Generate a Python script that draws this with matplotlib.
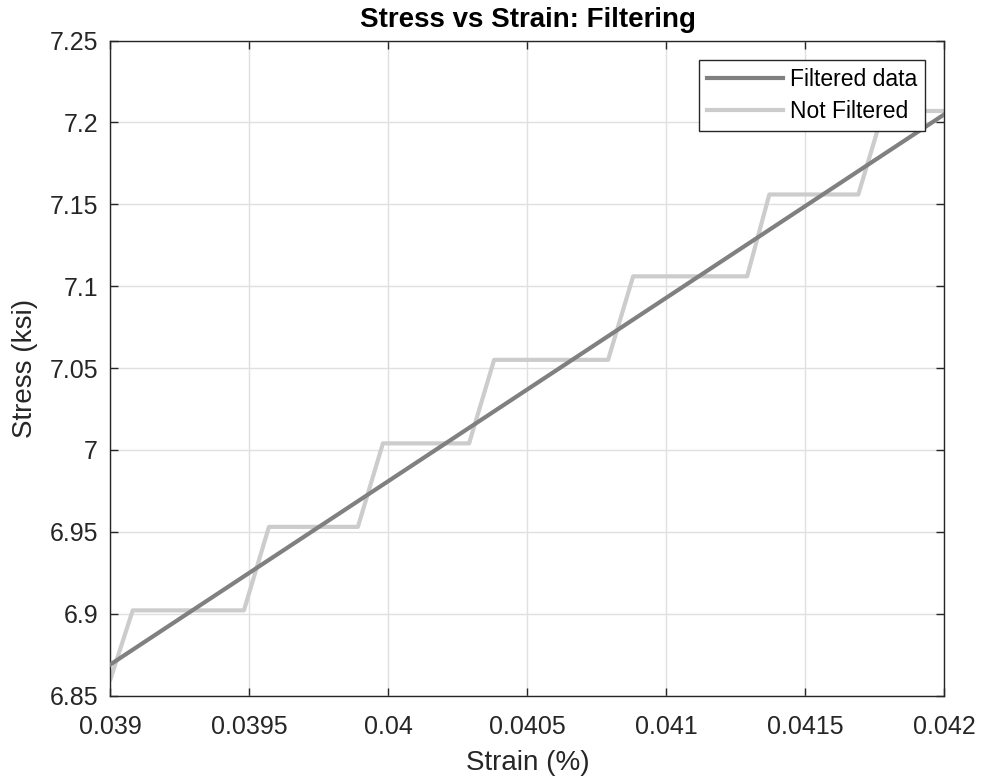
import matplotlib.pyplot as plt

plt.rcParams['font.family'] = ['Liberation Sans', 'DejaVu Sans']

# filtered (linear fit) endpoints
filt_strain = [0.0390, 0.0420]
filt_stress = [6.869, 7.205]

# raw stepped signal
raw_strain = [0.03900, 0.03908, 0.03948, 0.03957, 0.03989, 0.03998, 0.04029,
              0.04038, 0.04079, 0.04088, 0.04129, 0.04137, 0.04169, 0.04178, 0.04200]
raw_stress = [6.860, 6.902, 6.902, 6.953, 6.953, 7.004, 7.004,
              7.055, 7.055, 7.106, 7.106, 7.156, 7.156, 7.207, 7.207]

xticks = [0.039, 0.0395, 0.04, 0.0405, 0.041, 0.0415, 0.042]
xtick_labels = ['0.039', '0.0395', '0.04', '0.0405', '0.041', '0.0415', '0.042']
yticks = [6.85, 6.9, 6.95, 7.0, 7.05, 7.1, 7.15, 7.2, 7.25]
ytick_labels = ['6.85', '6.9', '6.95', '7', '7.05', '7.1', '7.15', '7.2', '7.25']

fig = plt.figure(figsize=(9.82, 7.8), dpi=100)
ax = fig.add_axes([0.1125, 0.1083, 0.8493, 0.8397])

ax.plot(filt_strain, filt_stress, color='#808080', lw=3.0, label='Filtered data', zorder=3)
ax.plot(raw_strain, raw_stress, color='#cccccc', lw=3.0, label='Not Filtered', zorder=2)

ax.set_xlim(0.039, 0.042)
ax.set_ylim(6.85, 7.25)
ax.set_xticks(xticks)
ax.set_xticklabels(xtick_labels)
ax.set_yticks(yticks)
ax.set_yticklabels(ytick_labels)
ax.tick_params(direction='in', top=True, right=True, labelsize=18, colors='#262626',
               length=6, width=1)
ax.tick_params(axis='x', pad=14)
ax.tick_params(axis='y', pad=9)
ax.grid(True, color='#e0e0e0', lw=1)
ax.set_axisbelow(True)
for s in ax.spines.values():
    s.set_color('#262626')
    s.set_linewidth(1)

ax.set_xlabel('Strain (%)', fontsize=20, color='#262626', labelpad=8)
ax.set_ylabel('Stress (ksi)', fontsize=20, color='#262626', labelpad=8)
ax.set_title('Stress vs Strain: Filtering', fontsize=20, fontweight='bold', color='black', pad=10)

leg = ax.legend(loc='upper right', fontsize=16.5, frameon=True, fancybox=False,
                edgecolor='#262626', framealpha=1, borderaxespad=0.85,
                handlelength=3.3, borderpad=0.35, labelspacing=0.38, handletextpad=0.3)
leg.get_frame().set_linewidth(1)

fig.savefig('out.png', dpi=100)
